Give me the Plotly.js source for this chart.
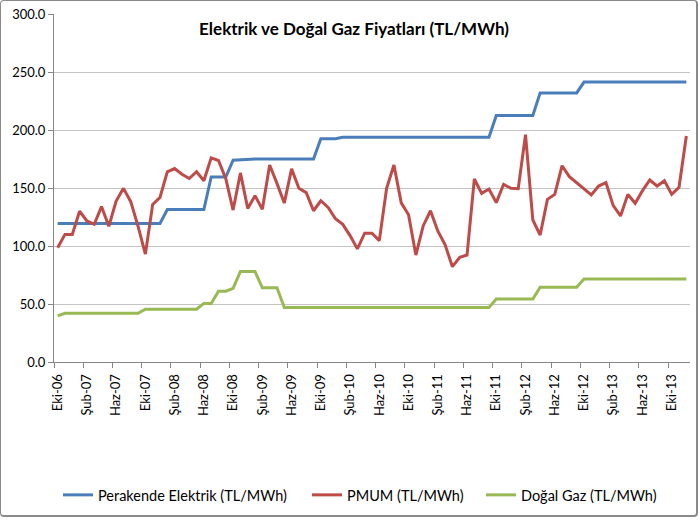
<!DOCTYPE html>
<html>
<head>
<meta charset="utf-8">
<script src="https://cdn.plot.ly/plotly-3.0.1.min.js"></script>
<style>
  body { margin: 0; background: #fff; }
  #wrap { position: relative; width: 699px; height: 520px; }
  #chart { width: 699px; height: 520px; }
  #frame { position: absolute; left: 0; top: 0; width: 695px; height: 514px;
           border: 1px solid #8a8a8a; border-right: 2px solid #8a8a8a; border-bottom: 2px solid #8a8a8a;
           border-radius: 4px; pointer-events: none; }
</style>
</head>
<body>
<div id="wrap"><div id="chart"></div><div id="frame"></div></div>
<script>
// Month names (Turkish) used to build category labels Eki-06 ... Ara-13
const monthNames = ["Oca","Şub","Mar","Nis","May","Haz","Tem","Ağu","Eyl","Eki","Kas","Ara"];
const categories = [];
for (let y = 2006; y <= 2013; y++) {
  for (let m = 0; m < 12; m++) {
    if (y === 2006 && m < 9) continue;
    categories.push(monthNames[m] + "-" + String(y).slice(2));
  }
}

const tickLabels = ["Eki-06","Şub-07","Haz-07","Eki-07","Şub-08","Haz-08","Eki-08","Şub-09","Haz-09","Eki-09","Şub-10",
                    "Haz-10","Eki-10","Şub-11","Haz-11","Eki-11","Şub-12","Haz-12","Eki-12","Şub-13","Haz-13","Eki-13"];

const perakende = [
  119.5,119.5,119.5,119.5,119.5,119.5,119.5,119.5,119.5,119.5,119.5,119.5,119.5,119.5,119.5,
  131.5,131.5,131.5,131.5,131.5,131.5,
  159.5,159.5,159.5,
  174,174.5,
  175,175,175,175,175,175,175,175,175,175,
  192.5,192.5,192.5,
  193.8,193.8,193.8,193.8,193.8,193.8,193.8,193.8,193.8,193.8,193.8,193.8,193.8,193.8,193.8,193.8,193.8,193.8,193.8,193.8,193.8,
  212.5,212.5,212.5,212.5,212.5,212.5,
  232,232,232,232,232,232,
  241.3,241.3,241.3,241.3,241.3,241.3,241.3,241.3,241.3,241.3,241.3,241.3,241.3,241.3,241.3
];

const pmum = [
  98.5,110,110,130,121.6,118.7,134,117,138.8,149.7,
  138.2,117,93,135.9,141.9,164,166.8,161.9,158.2,164,
  156.3,176,173.7,158,131,163,132.4,143.3,131.6,169.8,
  154,137,166.5,149.7,146,130.4,139,133.2,123.5,118.7,
  109,97.5,111,111,104.6,149.7,169.8,137.2,127,92.2,
  117.3,130.4,113,101,82.2,90.2,92.2,157.8,145.4,149.1,
  137.4,153.2,149.7,149.4,196,122.4,109.5,140.2,144.5,169.2,
  159.8,154.6,148.8,144,151.7,154.6,134.8,125.9,144.5,136.8,
  147.7,156.9,151.7,156.3,144.5,150.6,194.8
];

const dogalGaz = [
  39.7,
  42,42,42,42,42,42,42,42,42,42,42,
  45.5,45.5,45.5,45.5,45.5,45.5,45.5,45.5,
  50.5,50.5,
  61,61,
  63.5,
  78,78,78,
  64,64,64,
  47,47,47,47,47,47,47,47,47,47,47,47,47,47,47,47,47,47,47,47,47,47,47,47,47,47,47,47,47,
  54.3,54.3,54.3,54.3,54.3,54.3,
  64.4,64.4,64.4,64.4,64.4,64.4,
  71.5,71.5,71.5,71.5,71.5,71.5,71.5,71.5,71.5,71.5,71.5,71.5,71.5,71.5,71.5
];

const idx = categories.map((_, i) => i);
const labelIdx = tickLabels.map(t => categories.indexOf(t));
const boundaryIdx = labelIdx.map(i => i - 0.5);

const FONT = "Lato, 'Open Sans', sans-serif";

const traces = [
  { x: idx, y: perakende, text: categories, name: "Perakende Elektrik (TL/MWh)", type: "scatter", mode: "lines",
    line: { color: "#4a7ebb", width: 3 }, legend: "legend", hovertemplate: "%{text}: %{y:.1f}<extra></extra>" },
  { x: idx, y: pmum, text: categories, name: "PMUM (TL/MWh)", type: "scatter", mode: "lines",
    line: { color: "#be4b48", width: 3 }, legend: "legend2", hovertemplate: "%{text}: %{y:.1f}<extra></extra>" },
  { x: idx, y: dogalGaz, text: categories, name: "Doğal Gaz (TL/MWh)", type: "scatter", mode: "lines",
    line: { color: "#98b954", width: 3 }, legend: "legend3", hovertemplate: "%{text}: %{y:.1f}<extra></extra>" }
];

const legendBase = { orientation: "h", xanchor: "left", y: -0.382, yanchor: "middle",
                     font: { family: FONT, size: 14.5, color: "#000" }, bgcolor: "rgba(0,0,0,0)" };

const layout = {
  width: 699, height: 520,
  margin: { l: 54, r: 9, t: 14, b: 158 },
  paper_bgcolor: "#fff", plot_bgcolor: "#fff",
  font: { family: FONT, size: 13, color: "#000" },
  title: { text: "<b>Elektrik ve Doğal Gaz Fiyatları (TL/MWh)</b>", font: { family: FONT, size: 17, color: "#000" },
           x: 354/699, xref: "container", xanchor: "center", y: 1 - 29/520, yref: "container", yanchor: "middle" },
  xaxis: {
    range: [-0.5, 86.5], tickmode: "array", tickvals: labelIdx, ticktext: tickLabels, tickangle: -90,
    ticks: "outside", ticklen: 6, tickcolor: "rgba(0,0,0,0)",
    minor: { tickmode: "array", tickvals: boundaryIdx, ticks: "outside", ticklen: 5, tickcolor: "#868686", showgrid: false },
    showline: true, linecolor: "#868686", linewidth: 1, showgrid: false, zeroline: false,
    tickfont: { family: FONT, size: 13, color: "#000" }, automargin: false, fixedrange: true
  },
  yaxis: {
    range: [0, 300], tickmode: "array", tickvals: [0,50,100,150,200,250,300], tickformat: ".1f",
    ticks: "outside", ticklen: 5, tickcolor: "#868686",
    showline: true, linecolor: "#868686", linewidth: 1, gridcolor: "#c4c4c4", gridwidth: 1, zeroline: false,
    tickfont: { family: FONT, size: 13, color: "#000" }, automargin: false, fixedrange: true
  },
  showlegend: true,
  legend: Object.assign({}, legendBase, { x: (58 - 54) / 636 }),
  legend2: Object.assign({}, legendBase, { x: (307 - 54) / 636 }),
  legend3: Object.assign({}, legendBase, { x: (481 - 54) / 636 })
};

Plotly.newPlot("chart", traces, layout, { displayModeBar: false, staticPlot: true });
</script>
</body>
</html>
